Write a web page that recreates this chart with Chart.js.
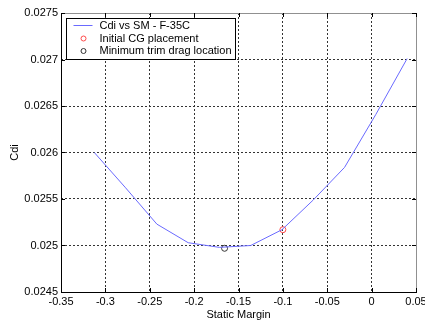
<!DOCTYPE html>
<html>
<head>
<meta charset="utf-8">
<script src="https://cdn.jsdelivr.net/npm/chart.js@4"></script>
<style>
  html, body { margin: 0; padding: 0; background: #fff; }
  #wrap { width: 425px; height: 324px; }
</style>
</head>
<body>
<div id="wrap"><canvas id="chart" width="425" height="324"></canvas></div>
<script>
// curve Cdi vs static margin
const staticMargin = [-0.3125, -0.2772, -0.2420, -0.2067, -0.1715, -0.1362, -0.1010, -0.0657, -0.0305, 0.0048, 0.0400];
const cdi = [0.02600, 0.02562, 0.02523, 0.02503, 0.02498, 0.02500, 0.02517, 0.02549, 0.02584, 0.02641, 0.02701];

const initialCgX = [-0.1000];
const initialCgY = [0.02517];
const minTrimX = [-0.1657];
const minTrimY = [0.02497];

const seriesLabels = ["Cdi vs SM - F-35C", "Initial CG placement", "Minimum trim drag location"];
const xTitle = "Static Margin";
const yTitle = "Cdi";

const xRange = [-0.35, 0.05];
const yRange = [0.0245, 0.0275];

const fontFamily = "'Liberation Sans', Arial, sans-serif";

function toPoints(xs, ys) {
    return xs.map(function (x, i) {
        return { x: x, y: ys[i] };
    });
}

function fmt(v) {
    return String(+v.toFixed(4));
}

// grid lines only inside the box, not on the frame
function gridColor(ctx) {
    const n = ctx.scale.ticks.length;
    if (ctx.index === 0 || ctx.index === n - 1) {
        return "rgba(0,0,0,0)";
    }
    return "#333";
}

const framePlugin = {
    id: "frame",
    afterDatasetsDraw(chart) {
        const ctx = chart.ctx;
        const a = chart.chartArea;
        ctx.save();
        ctx.lineWidth = 1;
        // top and right in gray
        ctx.strokeStyle = "#909090";
        ctx.beginPath();
        ctx.moveTo(a.left, a.top + 0.5);
        ctx.lineTo(a.right + 0.5, a.top + 0.5);
        ctx.lineTo(a.right + 0.5, a.bottom);
        ctx.stroke();
        // left and bottom in black
        ctx.strokeStyle = "#000";
        ctx.beginPath();
        ctx.moveTo(a.left + 0.5, a.top);
        ctx.lineTo(a.left + 0.5, a.bottom + 0.5);
        ctx.lineTo(a.right + 1, a.bottom + 0.5);
        ctx.stroke();

        // small inward ticks
        const xs = chart.scales.x;
        const ys = chart.scales.y;
        ctx.beginPath();
        xs.ticks.forEach(function (t) {
            const px = Math.round(xs.getPixelForValue(t.value)) + 0.5;
            ctx.moveTo(px, a.bottom);
            ctx.lineTo(px, a.bottom - 4);
            ctx.moveTo(px, a.top);
            ctx.lineTo(px, a.top + 4);
        });
        ys.ticks.forEach(function (t) {
            const py = Math.round(ys.getPixelForValue(t.value)) + 0.5;
            ctx.moveTo(a.left, py);
            ctx.lineTo(a.left + 4, py);
            ctx.moveTo(a.right, py);
            ctx.lineTo(a.right - 4, py);
        });
        ctx.stroke();
        ctx.restore();
    }
};

const legendPlugin = {
    id: "boxLegend",
    afterDraw(chart) {
        const ctx = chart.ctx;
        const a = chart.chartArea;
        const x0 = Math.round(a.left) + 5.5;
        const y0 = Math.round(a.top) + 5.5;
        const w = 169;
        const h = 41;
        const rowY = [y0 + 7, y0 + 20, y0 + 32.5];
        ctx.save();
        ctx.fillStyle = "#fff";
        ctx.fillRect(x0, y0, w, h);
        ctx.strokeStyle = "#000";
        ctx.lineWidth = 1;
        ctx.strokeRect(x0, y0, w, h);

        const ds = chart.data.datasets;
        // line sample
        ctx.strokeStyle = ds[0].borderColor;
        ctx.beginPath();
        ctx.moveTo(x0 + 7, rowY[0]);
        ctx.lineTo(x0 + 26, rowY[0]);
        ctx.stroke();
        // marker samples
        [1, 2].forEach(function (i) {
            ctx.strokeStyle = ds[i].pointBorderColor;
            ctx.beginPath();
            ctx.arc(x0 + 17, rowY[i], 2.5, 0, Math.PI * 2);
            ctx.stroke();
        });

        ctx.fillStyle = "#000";
        ctx.font = "11px " + fontFamily;
        ctx.textBaseline = "middle";
        ctx.textAlign = "left";
        ds.forEach(function (d, i) {
            ctx.fillText(d.label, x0 + 33, rowY[i]);
        });
        ctx.restore();
    }
};

new Chart(document.getElementById("chart").getContext("2d"), {
    type: "scatter",
    data: {
        datasets: [
            {
                label: seriesLabels[0],
                data: toPoints(staticMargin, cdi),
                showLine: true,
                borderColor: "#6a6aff",
                borderWidth: 1,
                pointRadius: 0,
                tension: 0
            },
            {
                label: seriesLabels[1],
                data: toPoints(initialCgX, initialCgY),
                pointStyle: "circle",
                pointRadius: 3,
                pointBorderColor: "#ff4a4a",
                pointBackgroundColor: "rgba(0,0,0,0)",
                pointBorderWidth: 1
            },
            {
                label: seriesLabels[2],
                data: toPoints(minTrimX, minTrimY),
                pointStyle: "circle",
                pointRadius: 3,
                pointBorderColor: "#333",
                pointBackgroundColor: "rgba(0,0,0,0)",
                pointBorderWidth: 1
            }
        ]
    },
    options: {
        responsive: false,
        animation: false,
        events: [],
        layout: { padding: { top: 13, right: 9, left: 0, bottom: 0 } },
        plugins: {
            legend: { display: false },
            tooltip: { enabled: false }
        },
        scales: {
            x: {
                type: "linear",
                min: xRange[0],
                max: xRange[1],
                ticks: {
                    stepSize: 0.05,
                    autoSkip: false,
                    maxRotation: 0,
                    padding: 3,
                    color: "#000",
                    font: { family: fontFamily, size: 11 },
                    callback: fmt
                },
                grid: { color: gridColor, drawTicks: false, lineWidth: 1 },
                border: { display: false, dash: [2, 2] },
                title: {
                    display: true,
                    text: xTitle,
                    color: "#000",
                    font: { family: fontFamily, size: 11 },
                    padding: { top: 0, bottom: 2 }
                },
                afterFit: function (scale) {
                    scale.height = 32;
                    scale.paddingLeft = 0;
                    scale.paddingRight = 0;
                }
            },
            y: {
                type: "linear",
                min: yRange[0],
                max: yRange[1],
                ticks: {
                    stepSize: 0.0005,
                    autoSkip: false,
                    padding: 3,
                    color: "#000",
                    font: { family: fontFamily, size: 11 },
                    callback: fmt
                },
                grid: { color: gridColor, drawTicks: false, lineWidth: 1 },
                border: { display: false, dash: [2, 2] },
                title: {
                    display: true,
                    text: yTitle,
                    color: "#000",
                    font: { family: fontFamily, size: 11 },
                    padding: { top: 8, bottom: 0 }
                },
                afterFit: function (scale) {
                    scale.width = 61;
                    scale.paddingTop = 0;
                    scale.paddingBottom = 0;
                }
            }
        }
    },
    plugins: [framePlugin, legendPlugin]
});
</script>
</body>
</html>
